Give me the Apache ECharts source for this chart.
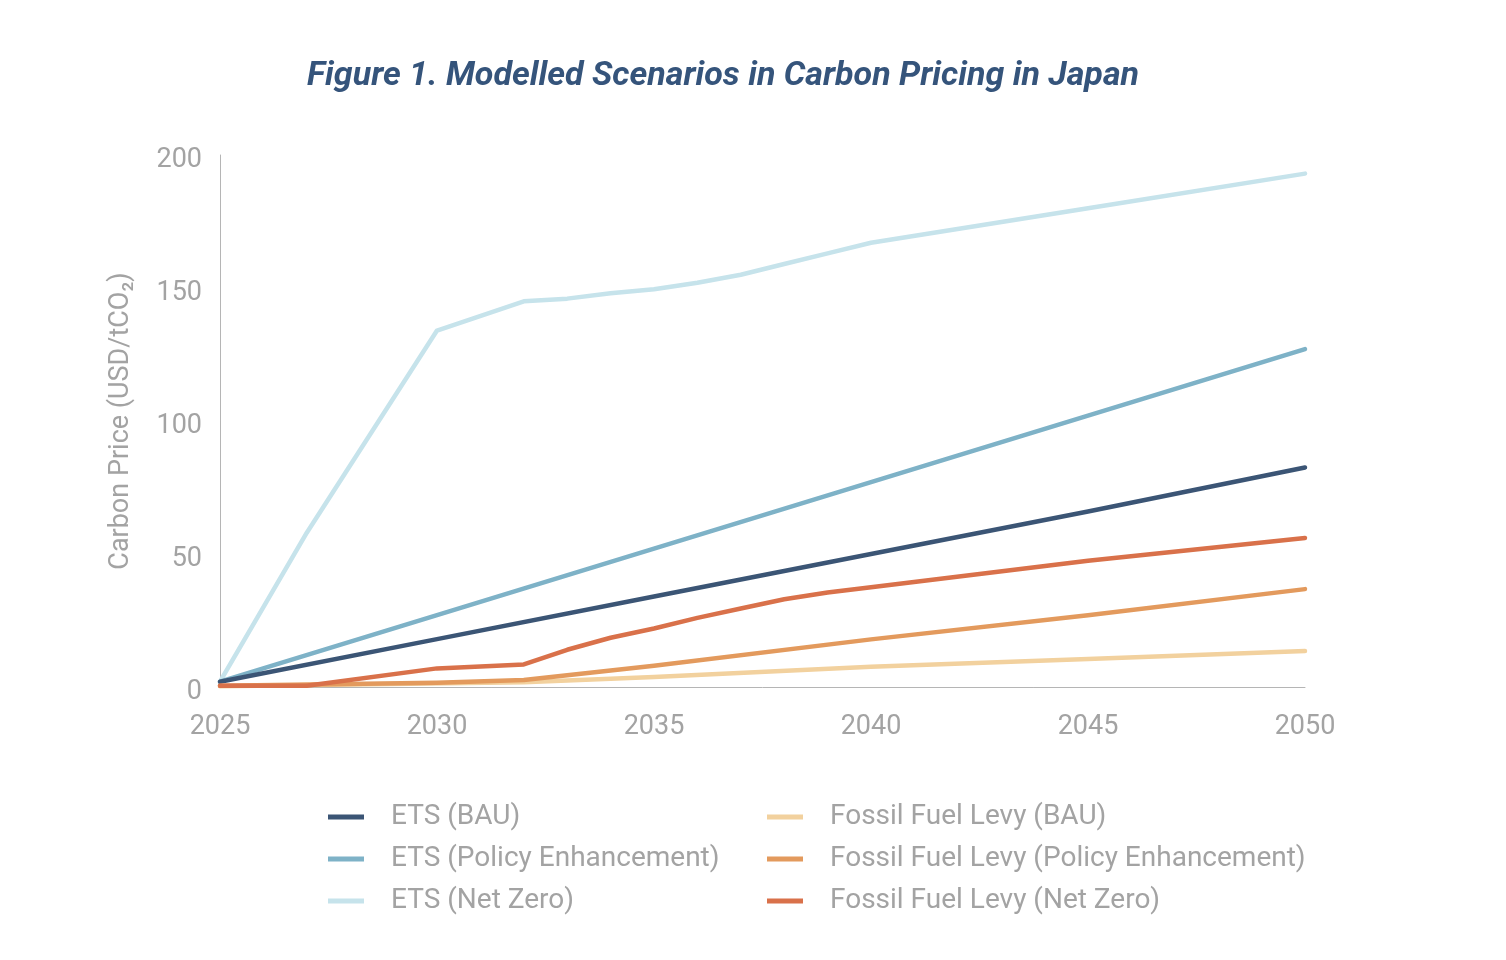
<!DOCTYPE html>
<html>
<head>
<meta charset="utf-8">
<title>Carbon Pricing in Japan</title>
<script src="https://cdn.jsdelivr.net/npm/echarts@6/dist/echarts.min.js"></script>
<style>
  html, body { margin: 0; padding: 0; background: #fff; }
  #chartMain { width: 1506px; height: 960px; }
</style>
</head>
<body>
<div id="chartMain"></div>
<script>
// 数据（年份, 价格 USD/tCO2），按图读取的拐点
var etsBau = [[2025, 2], [2030, 18], [2035, 34], [2040, 50], [2045, 66], [2050, 82.5]];
var etsPolicy = [[2025, 2], [2030, 27], [2035, 52], [2040, 77], [2045, 102], [2050, 127]];
var etsNetZero = [[2025, 2], [2027, 58], [2030, 134], [2032, 145], [2033, 146], [2034, 148], [2035, 149.5],
    [2036, 152], [2037, 155], [2038, 159], [2039, 163], [2040, 167], [2045, 180], [2050, 193]];
var fflBau = [[2025, 0.3], [2032, 1.8], [2035, 3.8], [2040, 7.6], [2045, 10.5], [2050, 13.5]];
var fflPolicy = [[2025, 0.5], [2030, 1.6], [2032, 2.6], [2035, 8], [2040, 17.9], [2045, 27], [2050, 36.8]];
var fflNetZero = [[2025, 0.5], [2027, 0.5], [2030, 7], [2032, 8.5], [2033, 14], [2034, 18.5], [2035, 22],
    [2036, 26], [2037, 29.5], [2038, 33], [2039, 35.5], [2040, 37.5], [2045, 47.5], [2050, 56]];

var seriesNames = ['ETS (BAU)', 'ETS (Policy Enhancement)', 'ETS (Net Zero)',
    'Fossil Fuel Levy (BAU)', 'Fossil Fuel Levy (Policy Enhancement)', 'Fossil Fuel Levy (Net Zero)'];
var seriesColors = ['#3b5575', '#7eb2c7', '#c6e3eb', '#f2d19e', '#e39a5d', '#d9714a'];
var seriesData = [etsBau, etsPolicy, etsNetZero, fflBau, fflPolicy, fflNetZero];
var drawOrder = [2, 1, 0, 3, 4, 5]; //浅色的在最下面

var myChart = echarts.init(document.getElementById('chartMain'));

var greyText = '#a3a3a3';
var series = [];
drawOrder.forEach(function(i) {
    series.push({
        name: seriesNames[i],
        type: 'line',
        data: seriesData[i],
        showSymbol: false,
        symbol: 'none',
        smooth: false,
        lineStyle: { width: 4.5, color: seriesColors[i], cap: 'round', join: 'round' },
        itemStyle: { color: seriesColors[i] }
    });
});

var legendBase = {
    orient: 'vertical',
    top: 798,
    itemWidth: 36,
    itemHeight: 5,
    itemGap: 14,
    icon: 'rect',
    textStyle: { color: greyText, fontSize: 28, fontFamily: 'Roboto', padding: [0, 0, 0, 22] }
};

option = {
    backgroundColor: '#fff',
    title: {
        text: 'Figure 1. Modelled Scenarios in Carbon Pricing in Japan',
        left: 718,
        top: 54,
        textAlign: 'center',
        textStyle: { color: '#35547b', fontSize: 34, fontWeight: 'bold', fontStyle: 'italic', fontFamily: 'Roboto' }
    },
    legend: [
        Object.assign({}, legendBase, { left: 323, data: seriesNames.slice(0, 3) }),
        Object.assign({}, legendBase, { left: 762, data: seriesNames.slice(3) })
    ],
    grid: { left: 220, right: 201, top: 155, bottom: 273 },
    xAxis: {
        type: 'value',
        min: 2025,
        max: 2050,
        interval: 5,
        axisLine: { show: true, lineStyle: { color: '#b5b5b5', width: 1 } },
        axisTick: { show: false },
        splitLine: { show: false },
        axisLabel: {
            color: greyText, fontSize: 27, fontFamily: 'Roboto', margin: 27,
            formatter: function(v) { return String(v); }
        }
    },
    yAxis: {
        type: 'value',
        min: 0,
        max: 200,
        interval: 50,
        name: 'Carbon Price (USD/tCO₂)',
        nameLocation: 'middle',
        nameGap: 85,
        nameTextStyle: { color: greyText, fontSize: 27, fontFamily: 'Roboto' },
        axisLine: { show: true, lineStyle: { color: '#b5b5b5', width: 1 } },
        axisTick: { show: false },
        splitLine: { show: false },
        axisLabel: { color: greyText, fontSize: 27, fontFamily: 'Roboto', margin: 18, verticalAlign: 'top', lineHeight: 10 }
    },
    series: series
};

myChart.setOption(option);
</script>
</body>
</html>
